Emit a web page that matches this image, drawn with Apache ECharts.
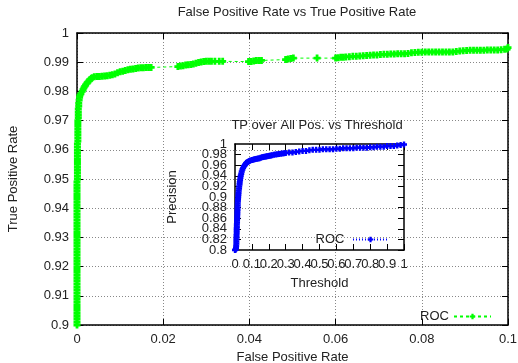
<!DOCTYPE html>
<html><head><meta charset="utf-8">
<script src="https://cdn.jsdelivr.net/npm/echarts@6/dist/echarts.min.js"></script>
<style>html,body{margin:0;padding:0;background:#fff}#c{width:518px;height:363px}</style>
</head><body><div id="c"></div>
<script>
// Main ROC curve: [false positive rate, true positive rate]
const rocMain = [
[0,0.900],[0,0.901],[0,0.902],[0,0.903],[0,0.904],[0,0.905],[0,0.906],[0,0.907],[0,0.908],[0,0.909],
[0,0.910],[0,0.911],[0,0.912],[0,0.913],[0,0.914],[0,0.915],[0,0.916],[0,0.917],[0,0.918],[0,0.919],
[0,0.920],[0,0.921],[0,0.922],[0,0.923],[0,0.924],[0,0.925],[0,0.926],[0,0.927],[0,0.928],[0,0.929],
[0,0.930],[0,0.931],[0,0.932],[0,0.933],[0,0.934],[0,0.935],[0,0.936],[0,0.937],[0,0.938],[0,0.939],
[0,0.940],[0,0.941],[0,0.942],[0,0.943],[0,0.944],[0,0.945],[0,0.946],[0,0.947],[0,0.948],[0,0.949],
[0.0001,0.950],[0.0001,0.951],[0.0001,0.952],[0.0001,0.953],[0.0001,0.954],[0.0001,0.955],[0.0001,0.956],[0.0001,0.957],[0.0001,0.958],[0.0001,0.959],
[0.0001,0.960],[0.0001,0.961],[0.0001,0.962],[0.0002,0.963],[0.0002,0.964],[0.0002,0.965],[0.0002,0.966],[0.0002,0.967],[0.0002,0.968],[0.0002,0.969],
[0.0002,0.970],[0.0003,0.971],[0.0003,0.972],[0.0003,0.973],[0.0003,0.974],[0.0004,0.975],[0.0004,0.976],[0.0005,0.977],[0.0006,0.978],[0.0007,0.9787],
[0.0009,0.9792],[0.0012,0.9800],[0.0014,0.9806],[0.0016,0.9812],[0.0018,0.9817],[0.0020,0.9822],[0.0023,0.9828],[0.0025,0.9832],[0.0028,0.9836],[0.0030,0.9840],
[0.0033,0.9844],[0.0035,0.9847],[0.0040,0.9850],[0.0046,0.9851],[0.0052,0.9851],
[0.0058,0.9852],[0.0064,0.9853],[0.0070,0.9854],[0.0076,0.9855],[0.0082,0.9857],[0.0088,0.9860],[0.0094,0.9864],[0.0100,0.9867],[0.0106,0.9869],[0.0112,0.9872],
[0.0118,0.9874],[0.0124,0.9876],[0.0130,0.9877],[0.0136,0.9878],[0.0142,0.9880],[0.0148,0.9881],[0.0154,0.9881],[0.0160,0.9882],[0.0166,0.9882],[0.0172,0.9882],
[0.0234,0.9885],[0.0240,0.9887],[0.0246,0.9888],[0.0252,0.9890],[0.0258,0.9891],[0.0264,0.9892],[0.0270,0.9894],[0.0276,0.9896],[0.0282,0.9899],[0.0288,0.9901],
[0.0294,0.9902],[0.0300,0.9903],[0.0306,0.9903],[0.0312,0.9903],[0.0320,0.9903],[0.0330,0.9903],[0.0338,0.9903],
[0.0398,0.9902],[0.0404,0.9902],[0.0410,0.9904],[0.0416,0.9906],[0.0422,0.9906],[0.0428,0.9906],
[0.0484,0.9909],[0.0490,0.9911],[0.0496,0.9913],[0.0502,0.9914],
[0.0557,0.9914],
[0.0600,0.9914],[0.0606,0.9915],[0.0612,0.9917],[0.0618,0.9917],[0.0624,0.9918],[0.0632,0.9919],[0.0640,0.9920],[0.0648,0.9920],[0.0656,0.9921],[0.0664,0.9922],
[0.0672,0.9923],[0.0680,0.9924],[0.0688,0.9925],[0.0696,0.9925],[0.0704,0.9926],[0.0712,0.9927],[0.0720,0.9927],[0.0728,0.9928],[0.0736,0.9928],[0.0744,0.9929],
[0.0752,0.9929],[0.0760,0.9929],[0.0768,0.9930],[0.0776,0.9932],[0.0784,0.9933],[0.0792,0.9934],[0.0800,0.9934],[0.0808,0.9935],[0.0816,0.9935],[0.0824,0.9935],
[0.0832,0.9935],[0.0840,0.9935],[0.0848,0.9935],[0.0856,0.9935],[0.0864,0.9935],[0.0872,0.9935],[0.0880,0.9937],[0.0888,0.9938],[0.0896,0.9939],[0.0904,0.9940],
[0.0912,0.9941],[0.0920,0.9941],[0.0928,0.9941],[0.0936,0.9941],[0.0944,0.9941],[0.0952,0.9942],[0.0960,0.9942],[0.0968,0.9942],[0.0976,0.9942],[0.0984,0.9943],
[0.0992,0.9944],[0.0998,0.9945],[0.1000,0.9950]
];
// Inset curve: [threshold, precision]
const rocInset = [
[0.000,0.800],[0.004,0.801],[0.006,0.804],[0.007,0.808],[0.008,0.812],[0.008,0.816],[0.008,0.820],[0.009,0.824],[0.009,0.828],[0.010,0.832],
[0.010,0.836],[0.010,0.840],[0.011,0.844],[0.011,0.848],[0.012,0.852],[0.012,0.856],[0.013,0.860],[0.013,0.864],[0.014,0.868],[0.014,0.872],
[0.015,0.876],[0.015,0.880],[0.016,0.884],[0.016,0.888],[0.017,0.892],[0.018,0.896],[0.019,0.900],[0.020,0.904],[0.021,0.908],[0.022,0.912],
[0.024,0.916],[0.025,0.920],[0.027,0.924],[0.028,0.928],[0.030,0.932],[0.032,0.936],[0.034,0.940],[0.037,0.944],[0.040,0.948],[0.044,0.952],
[0.048,0.955],[0.053,0.958],[0.058,0.960],[0.062,0.962],[0.066,0.964],[0.070,0.965],[0.075,0.966],[0.080,0.967],[0.085,0.968],[0.090,0.969],
[0.100,0.970],[0.108,0.9705],[0.115,0.971],[0.122,0.9715],[0.130,0.972],[0.138,0.9725],[0.145,0.973],[0.152,0.974],[0.160,0.975],[0.168,0.9755],
[0.175,0.976],[0.183,0.9765],[0.190,0.977],[0.198,0.9775],[0.205,0.978],[0.212,0.9785],[0.220,0.979],[0.230,0.9795],[0.240,0.980],[0.250,0.9805],
[0.260,0.981],[0.270,0.9815],[0.280,0.982],[0.290,0.9825],[0.300,0.983],[0.320,0.984],[0.340,0.984],[0.360,0.985],[0.380,0.986],[0.400,0.987],
[0.420,0.987],[0.440,0.988],[0.460,0.989],[0.480,0.989],[0.500,0.989],[0.520,0.990],[0.540,0.990],[0.560,0.990],[0.580,0.990],[0.600,0.991],
[0.620,0.991],[0.640,0.992],[0.660,0.992],[0.680,0.992],[0.700,0.992],[0.720,0.993],[0.740,0.993],[0.760,0.993],[0.780,0.993],[0.800,0.994],
[0.820,0.994],[0.840,0.995],[0.860,0.995],[0.880,0.995],[0.900,0.996],[0.920,0.996],[0.940,0.996],[0.960,0.997],[0.980,0.998],[1.000,0.999]
];
const mainTitle = 'False Positive Rate vs True Positive Rate';
const insetTitle = 'TP over All Pos. vs Threshold';
const mainXName = 'False Positive Rate', mainYName = 'True Positive Rate';
const insetXName = 'Threshold', insetYName = 'Precision';
const seriesName = 'ROC';

const FONT = 'Liberation Sans';
const FS = 13;
const TXT = '#222';
const plus = 'path://M3,0h4v3h3v4h-3v3h-4v-3h-3v-4h3z';
const fmt = v => String(+v.toFixed(2));
const gridLine = {show:true, lineStyle:{color:'#888', type:[1,2], width:1}};
const axLine = {show:true, onZero:false, lineStyle:{color:'#000', width:1.5}};
function ax(grid, pos, min, max, interval, labels, split, extra, labelExtra) {
  return Object.assign({
    type:'value', gridIndex:grid, position:pos, min, max, interval,
    axisLine:axLine,
    axisTick:{show:true, inside:true, length:6, lineStyle:{color:'#000'}},
    axisLabel:Object.assign({show:labels, formatter:fmt, color:TXT, fontFamily:FONT, fontSize:FS, margin:8,
               showMinLabel:true, showMaxLabel:true, hideOverlap:false, interval:0}, labelExtra||{}),
    splitLine: split ? gridLine : {show:false}
  }, extra||{});
}
const nameStyle = {color:TXT, fontFamily:FONT, fontSize:FS};
const chart = echarts.init(document.getElementById('c'), null, {renderer:'canvas'});
chart.setOption({
  animation:false,
  backgroundColor:'#fff',
  title:[
    {text:mainTitle, left:292, top:1, textAlign:'center', textStyle:{fontFamily:FONT, fontSize:FS, fontWeight:'normal', color:TXT}},
    {text:insetTitle, left:312, top:114, textAlign:'center', textStyle:{fontFamily:FONT, fontSize:FS, fontWeight:'normal', color:TXT}}
  ],
  grid:[
    {left:77, right:10, top:33, bottom:38, outerBoundsMode:'none', containLabel:false},
    {left:235, width:169, top:144, height:106, outerBoundsMode:'none', containLabel:false}
  ],
  xAxis:[
    ax(0,'bottom',0,0.1,0.02,true,true,{name:mainXName, nameLocation:'middle', nameGap:24, nameTextStyle:nameStyle}),
    ax(0,'top',0,0.1,0.02,false,false),
    ax(1,'bottom',0,1,0.1,true,false,{name:insetXName, nameLocation:'middle', nameGap:27, nameTextStyle:nameStyle}),
    ax(1,'top',0,1,0.1,false,false)
  ],
  yAxis:[
    ax(0,'left',0.9,1,0.01,true,true,{name:mainYName, nameLocation:'middle', nameGap:57, nameTextStyle:nameStyle}),
    ax(0,'right',0.9,1,0.01,false,false),
    // inset left axis: inner labels 0.82..0.98
    ax(1,'left',0.8,1,0.02,true,false,{name:insetYName, nameLocation:'middle', nameGap:56, nameTextStyle:nameStyle},
       {showMinLabel:false, showMaxLabel:false}),
    ax(1,'right',0.8,1,0.02,false,false),
    // inset left axis overlay: end labels 0.8 and 1
    ax(1,'left',0.8,1,0.2,true,false,{axisLine:{show:false}, axisTick:{show:false}})
  ],
  legend:[
    {data:[seriesName], right:21, top:305, align:'right', itemWidth:37, itemHeight:7, itemGap:5,
     textStyle:{fontFamily:FONT, fontSize:FS, color:TXT}},
    {data:[seriesName + ' '], right:124, top:228, align:'right', itemWidth:35, itemHeight:7, itemGap:5,
     textStyle:{fontFamily:FONT, fontSize:FS, color:TXT}}
  ],
  series:[
    {name:seriesName, type:'line', xAxisIndex:0, yAxisIndex:0, data:rocMain,
     symbol:plus, symbolSize:7, showAllSymbol:true,
     itemStyle:{color:'#00ff00'}, lineStyle:{color:'#00ff00', width:1, type:[3,3]}},
    {name:seriesName + ' ', type:'line', xAxisIndex:2, yAxisIndex:2, data:rocInset,
     symbol:plus, symbolSize:6, showAllSymbol:true,
     itemStyle:{color:'#0000ff'}, lineStyle:{color:'#0000ff', width:1, type:[1,2]}}
  ]
});
</script></body></html>
